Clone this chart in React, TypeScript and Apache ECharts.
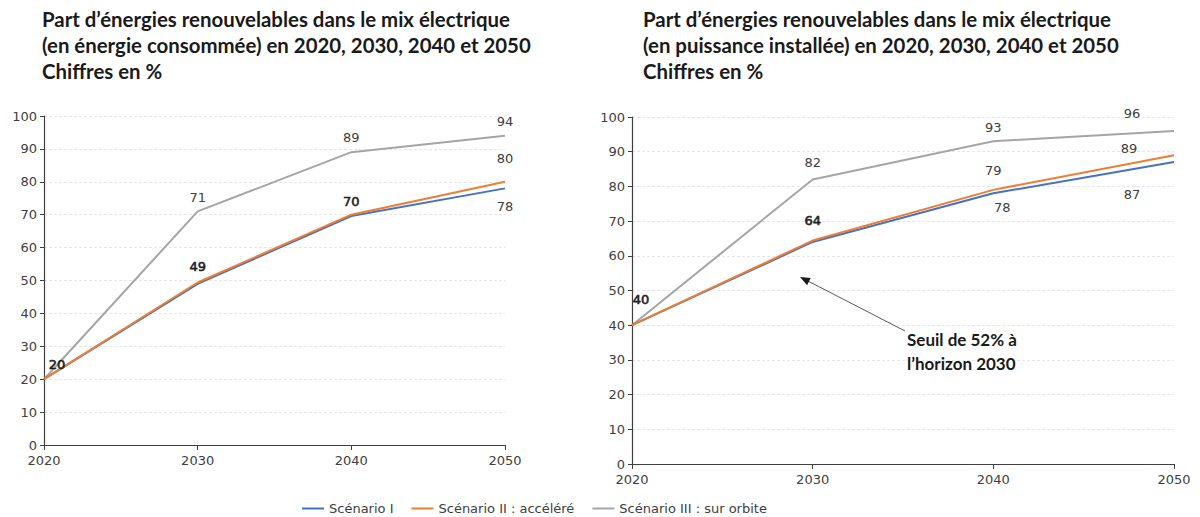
import React, { useEffect, useRef } from "react";
import * as echarts from "echarts";

const years = ["2020", "2030", "2040", "2050"];
const yTicks = [0, 10, 20, 30, 40, 50, 60, 70, 80, 90, 100];

// Left chart: énergie consommée
const leftS1 = [20, 49, 69.6, 78];
const leftS2 = [20, 49.4, 70, 80];
const leftS3 = [20, 71, 89, 94];

// Right chart: puissance installée
const rightS1 = [40, 64, 78, 87];
const rightS2 = [40, 64.4, 79, 89];
const rightS3 = [40, 82, 93, 96];

const seriesNames = ["Scénario I", "Scénario II : accéléré", "Scénario III : sur orbite"];
const leftTitle = [
  "Part d’énergies renouvelables dans le mix électrique",
  "(en énergie consommée) en 2020, 2030, 2040 et 2050",
  "Chiffres en %",
];
const rightTitle = [
  "Part d’énergies renouvelables dans le mix électrique",
  "(en puissance installée) en 2020, 2030, 2040 et 2050",
  "Chiffres en %",
];
const annotation = ["Seuil de 52% à", "l’horizon 2030"];

const COLORS = ["#4472C4", "#ED7D31", "#A5A5A5"];
const LABEL_FONT = "DejaVu Sans";
const TITLE_FONT = "Lato";

type LabelCfg = { show: boolean; position?: string; offset?: number[] } | null;

function build(values: number[], labels: LabelCfg[]) {
  return values.map((v, i) => {
    const l = labels[i];
    if (!l) return { value: v, label: { show: false } };
    return { value: v, label: l };
  });
}

export default function App() {
  const ref = useRef<HTMLDivElement>(null);
  useEffect(() => {
    if (!ref.current) return;
    const chart = echarts.init(ref.current, null, { renderer: "svg" });

    const axisLabel = { color: "#404040", fontFamily: LABEL_FONT, fontSize: 13 };
    const mkX = (gridIndex: number) => ({
      type: "category" as const,
      gridIndex,
      data: years,
      boundaryGap: false,
      axisLine: { lineStyle: { color: "#404040", width: 1.2 } },
      axisTick: { show: true, length: 5, alignWithLabel: true, lineStyle: { color: "#404040" } },
      axisLabel: { ...axisLabel, margin: 9 },
      splitLine: { show: false },
    });
    const mkY = (gridIndex: number) => ({
      type: "value" as const,
      gridIndex,
      min: yTicks[0],
      max: yTicks[yTicks.length - 1],
      interval: yTicks[1] - yTicks[0],
      axisLine: { show: true, lineStyle: { color: "#404040", width: 1.2 } },
      axisTick: { show: true, length: 4, lineStyle: { color: "#404040" } },
      axisLabel: { ...axisLabel, margin: 7 },
      splitLine: { show: true, lineStyle: { color: "#e6e6e6", type: [3, 2] as any, width: 1 } },
    });

    const lineSeries = (
      name: string,
      idx: number,
      values: number[],
      labels: LabelCfg[],
      colorIdx: number,
      z: number
    ) => ({
      name,
      type: "line" as const,
      xAxisIndex: idx,
      yAxisIndex: idx,
      data: build(values, labels),
      symbol: "circle",
      symbolSize: 0.01,
      showSymbol: true,
      z,
      lineStyle: { color: COLORS[colorIdx], width: 2 },
      itemStyle: { color: COLORS[colorIdx] },
      label: {
        show: true,
        position: "top",
        color: "#404040",
        fontFamily: LABEL_FONT,
        fontSize: 13,
        formatter: (p: any) => String(Math.round(p.value)),
      },
    });

    const L = (position: string, offset: number[]): LabelCfg => ({ show: true, position, offset });
    // Labels shared by Scénario I and II look heavier in the original (overlapping text)
    const B = (position: string, offset: number[]): LabelCfg => ({
      show: true,
      position,
      offset,
      color: "#1f1f1f",
      textBorderColor: "#1f1f1f",
      textBorderWidth: 0.6,
    } as any);

    const titleStyle = { fontFamily: TITLE_FONT, fontWeight: "bold", fontSize: 20.4, color: "#1a1a1a", lineHeight: 26 };

    const option: any = {
      animation: false,
      backgroundColor: "#ffffff",
      title: [
        { text: leftTitle.join("\n"), left: 37, top: 1, textStyle: titleStyle },
        { text: rightTitle.join("\n"), left: 638, top: 1, textStyle: titleStyle },
      ],
      legend: {
        left: 297,
        top: 497,
        icon: "rect",
        itemWidth: 22,
        itemHeight: 2,
        itemGap: 18,
        textStyle: { color: "#404040", fontFamily: LABEL_FONT, fontSize: 13 },
        data: seriesNames,
      },
      grid: [
        { left: 44, right: 695, top: 116, bottom: 72 },
        { left: 632, right: 26, top: 117, bottom: 53 },
      ],
      xAxis: [mkX(0), mkX(1)],
      yAxis: [mkY(0), mkY(1)],
      series: [
        lineSeries(seriesNames[0], 0, leftS1, [null, null, null, L("bottom", [0, 7])], 0, 3),
        lineSeries(seriesNames[1], 0, leftS2, [B("top", [13, -3]), B("top", [0, -4]), B("top", [0, -2]), L("top", [0, -12])], 1, 4),
        lineSeries(seriesNames[2], 0, leftS3, [null, L("top", [0, -2]), L("top", [0, -3]), L("top", [0, -3])], 2, 2),
        lineSeries(seriesNames[0], 1, rightS1, [null, null, L("bottom", [9, 3]), L("bottom", [-42, 21])], 0, 3),
        lineSeries(seriesNames[1], 1, rightS2, [B("top", [9, -14]), B("top", [0, -9]), L("top", [0, -8]), L("top", [-45, 5])], 1, 4),
        lineSeries(seriesNames[2], 1, rightS3, [null, L("top", [0, -5]), L("top", [0, -2]), L("top", [-42, -6])], 2, 2),
      ],
      graphic: [
        {
          type: "line",
          shape: { x1: 905, y1: 331, x2: 806, y2: 280 },
          style: { stroke: "#595959", lineWidth: 1 },
          z: 10,
        },
        {
          type: "polygon",
          shape: { points: [[800, 277], [810.7, 278.0], [807.1, 285.2]] },
          style: { fill: "#1a1a1a" },
          z: 10,
        },
        {
          type: "text",
          x: 907,
          y: 327,
          style: {
            text: annotation.join("\n"),
            fontFamily: TITLE_FONT,
            fontWeight: "bold",
            fontSize: 17,
            lineHeight: 24,
            fill: "#1a1a1a",
          },
          z: 10,
        },
      ],
    };
    chart.setOption(option);
    return () => chart.dispose();
  }, []);

  return (
    <div
      ref={ref}
      style={{ position: "fixed", left: 0, top: 0, width: 1200, height: 517, background: "#fff" }}
    />
  );
}
